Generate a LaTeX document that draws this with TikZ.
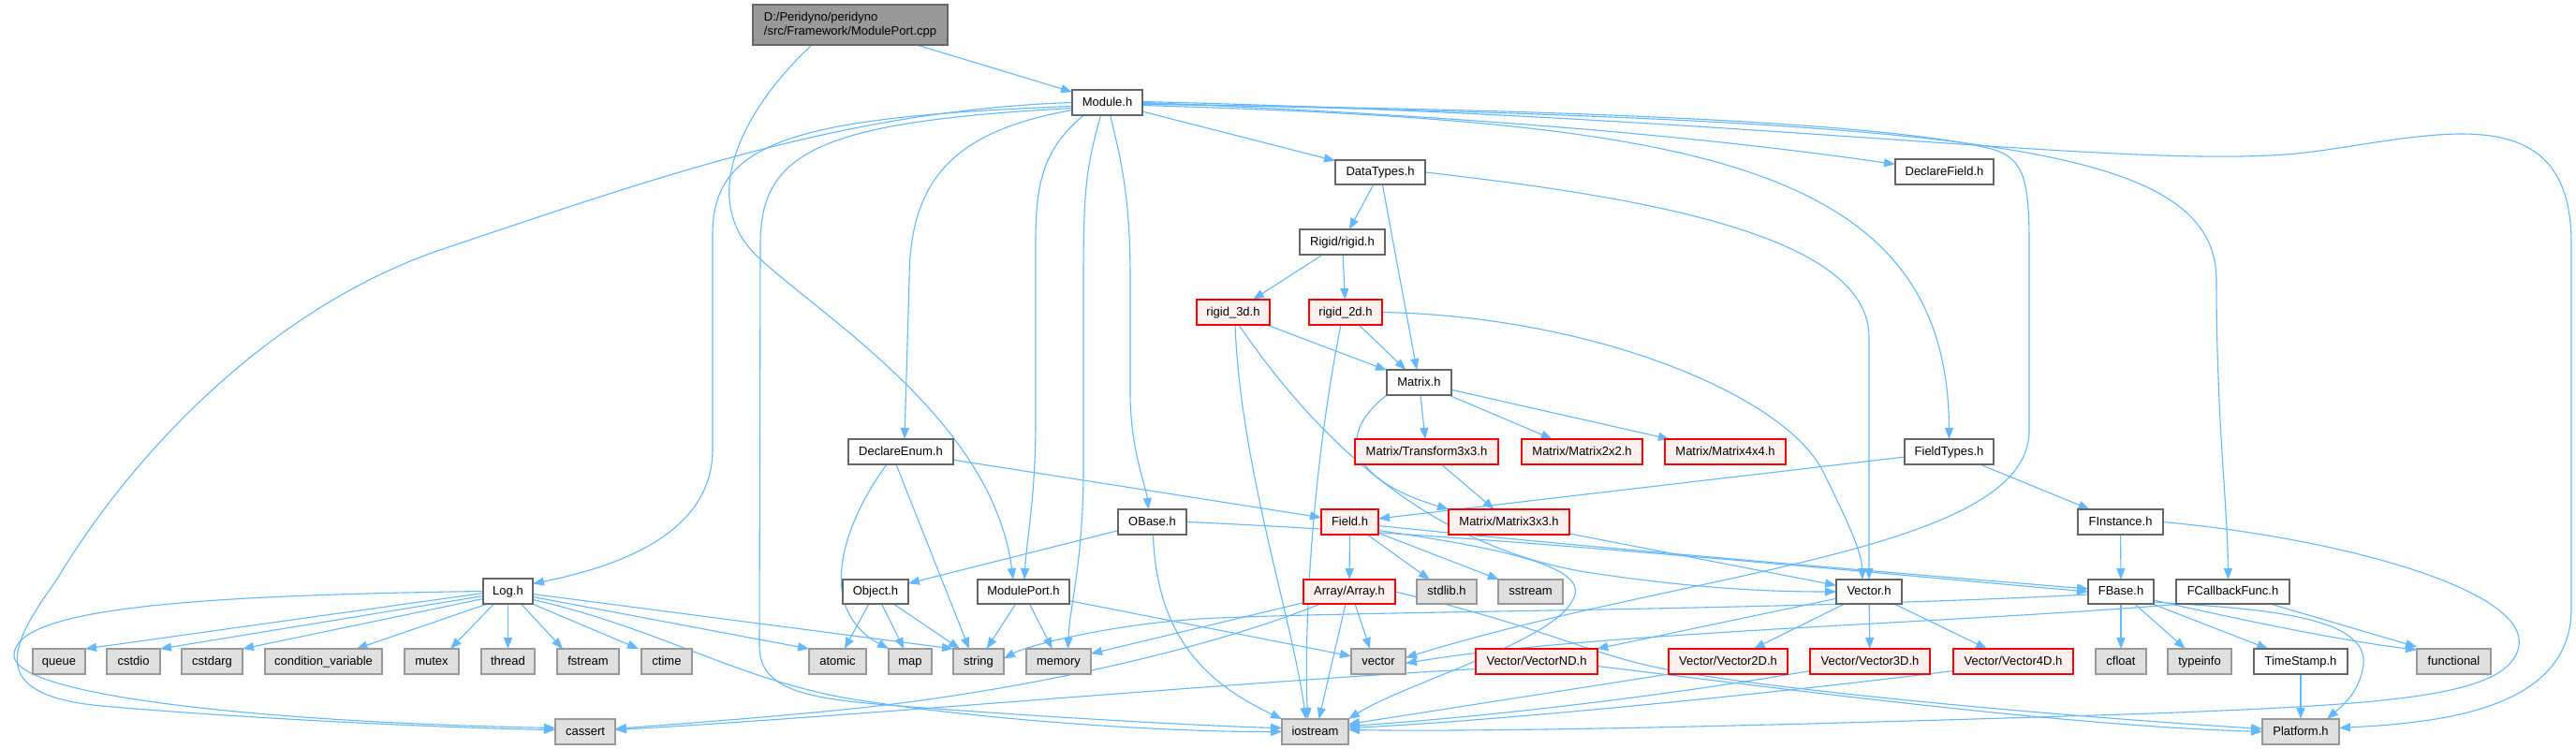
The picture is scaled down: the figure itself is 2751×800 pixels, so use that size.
\documentclass[tikz,border=0pt]{standalone}
\usepackage{fontspec}
\setmainfont{Liberation Sans}
\usetikzlibrary{arrows.meta}
\definecolor{ecol}{HTML}{63B8FF}
\definecolor{bgray}{HTML}{666666}
\definecolor{sysfill}{HTML}{E0E0E0}
\definecolor{sysdraw}{HTML}{999999}
\definecolor{redfill}{HTML}{FFF0F0}
\definecolor{reddraw}{HTML}{FF0000}
\definecolor{rootfill}{HTML}{999999}
\newcommand\fsz{\fontsize{13}{15.5}\selectfont}
\pgfdeclarelayer{bg}
\pgfsetlayers{bg,main}
\tikzset{
  box/.style={draw=bgray, fill=white, line width=1.3pt, inner sep=0pt, outer sep=0pt, font=\fsz, text height=9.5pt, text depth=2.5pt},
  redbox/.style={box, draw=reddraw, fill=redfill},
  sysbox/.style={box, draw=sysdraw, fill=sysfill},
  rootbox/.style={box, fill=rootfill, align=left, text height=, text depth=},
  edge/.style={draw=ecol, line width=1.1pt, -{Triangle[length=12pt,width=9pt]}}
}
\newcommand\bx[7]{%
  \pgfmathsetmacro\bxcx{(#2+#4)/2}%
  \pgfmathsetmacro\bxcy{(#3+#5)/2}%
  \pgfmathsetmacro\bxw{#4-#2}%
  \pgfmathsetmacro\bxh{#5-#3}%
  \node[#6, minimum width=\bxw pt, minimum height=\bxh pt] (#1) at (\bxcx,\bxcy) {#7};}
\begin{document}
\begin{tikzpicture}[x=1pt,y=-1pt]
\useasboundingbox (0,0) rectangle (2751,800);
% nodes
\bx{root}{804}{5}{1012}{48}{rootbox}{D:/Peridyno/peridyno\\/src/Framework/ModulePort.cpp}
\bx{module}{1145}{96}{1220}{123}{box}{Module.h}
\bx{datatypes}{1426}{171}{1522}{197}{box}{DataTypes.h}
\bx{declfield}{2024}{170}{2129}{197}{box}{DeclareField.h}
\bx{rigid}{1388}{245}{1479}{272}{box}{Rigid/rigid.h}
\bx{r3d}{1278}{320}{1356}{347}{redbox}{rigid\_3d.h}
\bx{r2d}{1398}{320}{1476}{347}{redbox}{rigid\_2d.h}
\bx{matrix}{1481}{395}{1550}{422}{box}{Matrix.h}
\bx{declenum}{906}{469}{1018}{496}{box}{DeclareEnum.h}
\bx{tr33}{1447}{469}{1600}{496}{redbox}{Matrix/Transform3x3.h}
\bx{m22}{1625}{469}{1754}{496}{redbox}{Matrix/Matrix2x2.h}
\bx{m44}{1778}{469}{1907}{496}{redbox}{Matrix/Matrix4x4.h}
\bx{fieldtypes}{2034}{469}{2129}{496}{box}{FieldTypes.h}
\bx{obase}{1194}{544}{1267}{571}{box}{OBase.h}
\bx{field}{1411}{544}{1472}{571}{redbox}{Field.h}
\bx{m33}{1547}{544}{1676}{571}{redbox}{Matrix/Matrix3x3.h}
\bx{finst}{2219}{544}{2310}{571}{box}{FInstance.h}
\bx{logh}{516}{618}{569}{645}{box}{Log.h}
\bx{object}{900}{619}{970}{645}{box}{Object.h}
\bx{mport}{1044}{619}{1142}{645}{box}{ModulePort.h}
\bx{array}{1392}{619}{1490}{645}{redbox}{Array/Array.h}
\bx{stdlib}{1513}{619}{1577}{645}{sysbox}{stdlib.h}
\bx{sstream}{1600}{619}{1669}{645}{sysbox}{sstream}
\bx{vech}{1961}{619}{2031}{645}{box}{Vector.h}
\bx{fbase}{2230}{619}{2300}{645}{box}{FBase.h}
\bx{fcb}{2324}{619}{2445}{645}{box}{FCallbackFunc.h}
\bx{queue}{35}{693}{91}{720}{sysbox}{queue}
\bx{cstdio}{114}{693}{171}{720}{sysbox}{cstdio}
\bx{cstdarg}{194}{693}{259}{720}{sysbox}{cstdarg}
\bx{condvar}{283}{693}{408}{720}{sysbox}{condition\_variable}
\bx{mutex}{432}{693}{490}{720}{sysbox}{mutex}
\bx{thread}{514}{693}{571}{720}{sysbox}{thread}
\bx{fstream}{595}{693}{661}{720}{sysbox}{fstream}
\bx{ctime}{685}{693}{739}{720}{sysbox}{ctime}
\bx{atomic}{864}{693}{925}{720}{sysbox}{atomic}
\bx{map}{949}{693}{995}{720}{sysbox}{map}
\bx{string}{1018}{693}{1072}{720}{sysbox}{string}
\bx{memory}{1096}{693}{1165}{720}{sysbox}{memory}
\bx{vector}{1443}{693}{1501}{720}{sysbox}{vector}
\bx{vnd}{1576}{693}{1706}{720}{redbox}{Vector/VectorND.h}
\bx{v2d}{1782}{693}{1909}{720}{redbox}{Vector/Vector2D.h}
\bx{v3d}{1933}{693}{2061}{720}{redbox}{Vector/Vector3D.h}
\bx{v4d}{2086}{693}{2214}{720}{redbox}{Vector/Vector4D.h}
\bx{cfloat}{2238}{693}{2292}{720}{sysbox}{cfloat}
\bx{typeinfo}{2315}{693}{2383}{720}{sysbox}{typeinfo}
\bx{tstamp}{2407}{693}{2507}{720}{box}{TimeStamp.h}
\bx{functional}{2581}{693}{2660}{720}{sysbox}{functional}
\bx{cassert}{593}{768}{657}{795}{sysbox}{cassert}
\bx{iostream}{1369}{768}{1440}{795}{sysbox}{iostream}
\bx{platform}{2416}{768}{2498}{795}{sysbox}{Platform.h}
\begin{pgfonlayer}{bg}
\fill[white] (0,0) rectangle (2751,800);
% root
\draw[edge] (root) -- (module);
\draw[edge] ([xshift=-41pt]root.south) .. controls (800,110) and (740,210) .. (810,275) .. controls (880,340) and (1060,450) .. ([xshift=-11pt]mport.north);
% Module.h
\draw[edge] (module) -- (datatypes);
\draw[edge] (module.east) .. controls (1600,125) and (1850,150) .. ([yshift=8pt]declfield.west);
\draw[edge] ([yshift=-3pt]module.east) .. controls (1800,130) and (2080,170) .. (fieldtypes.north);
\draw[edge] ([yshift=-2pt]module.east) .. controls (1800,118) and (2050,138) .. (2130,160) .. controls (2160,170) and (2167,190) .. (2167,260) -- (2167,460) .. controls (2167,590) and (1800,610) .. ([yshift=4pt]vector.east);
\draw[edge] ([yshift=-1pt]module.east) .. controls (2100,130) and (2367,150) .. (2367,300) .. controls (2367,450) and (2379,540) .. ([xshift=-5pt]fcb.north);
\draw[edge] ([yshift=1pt]module.east) .. controls (1900,125) and (2300,185) .. (2470,162) .. controls (2600,145) and (2746,100) .. (2746,260) -- (2746,650) .. controls (2746,760) and (2600,772) .. ([yshift=4pt]platform.east);
\draw[edge] (module.west) .. controls (900,118) and (700,190) .. (470,267) .. controls (300,325) and (150,470) .. (60,620) .. controls (10,690) and (-20,745) .. (120,755) .. controls (300,770) and (500,778) .. ([yshift=2pt]cassert.west);
\draw[edge] ([yshift=-4pt]module.west) .. controls (850,125) and (761,150) .. (761,250) -- (761,480) .. controls (761,570) and (660,605) .. ([yshift=8pt]logh.east);
\draw[edge] ([yshift=-6pt]module.west) .. controls (880,130) and (812,160) .. (812,260) -- (811,690) .. controls (811,745) and (880,748) .. (1000,757) .. controls (1150,768) and (1300,776) .. ([yshift=4pt]iostream.west);
\draw[edge] ([yshift=-8pt]module.west) .. controls (1020,140) and (971,190) .. (971,300) -- ([xshift=4pt]declenum.north);
\draw[edge] ([xshift=-25pt]module.south) .. controls (1112,160) and (1106,200) .. (1106,260) -- (1106,450) .. controls (1106,530) and (1096,580) .. ([xshift=1pt]mport.north);
\draw[edge] ([xshift=-7pt]module.south) .. controls (1160,180) and (1157,200) .. (1157,300) -- (1157,500) .. controls (1157,600) and (1142,650) .. ([xshift=10pt]memory.north);
\draw[edge] ([xshift=3pt]module.south) .. controls (1200,180) and (1207,220) .. (1207,300) -- (1207,420) .. controls (1207,480) and (1224,520) .. ([xshift=-4pt]obase.north);
% DataTypes.h
\draw[edge] (datatypes) -- (rigid);
\draw[edge] (datatypes) -- (matrix);
\draw[edge] (datatypes.east) .. controls (1750,210) and (1996,250) .. (1996,360) -- (vech.north);
% rigid
\draw[edge] (rigid) -- (r3d);
\draw[edge] (rigid) -- (r2d);
\draw[edge] (r3d) -- (matrix);
\draw[edge] (r2d) -- (matrix);
\draw[edge] ([xshift=2pt]r3d.south) .. controls (1325,500) and (1380,660) .. ([xshift=-10pt]iostream.north);
\draw[edge] ([xshift=-5pt]r2d.south) .. controls (1405,480) and (1392,650) .. ([xshift=-8pt]iostream.north);
\draw[edge] ([xshift=6pt]r3d.south) .. controls (1400,460) and (1520,585) .. (1700,612) .. controls (1820,630) and (1900,632) .. (vech.west);
\draw[edge] (r2d.east) .. controls (1700,338) and (1900,420) .. (1945,500) .. controls (1975,560) and (1988,590) .. ([xshift=-7pt]vech.north);
% Matrix
\draw[edge] (matrix) -- (tr33);
\draw[edge] (matrix) -- (m22);
\draw[edge] (matrix) -- (m44);
\draw[edge] (matrix.south west) .. controls (1420,470) and (1450,515) .. (m33.north west);
\draw[edge] (tr33) -- (m33);
\draw[edge] (m33) -- (vech);
% DeclareEnum
\draw[edge] (declenum) -- (field);
\draw[edge] ([xshift=-5pt]declenum.south) -- ([xshift=-10pt]string.north);
\draw[edge] ([xshift=-15pt]declenum.south) .. controls (900,560) and (870,650) .. (map.north west);
% FieldTypes, FInstance
\draw[edge] (fieldtypes) -- (field);
\draw[edge] (fieldtypes) -- (finst);
\draw[edge] (finst) -- (fbase);
\draw[edge] (finst.east) .. controls (2500,575) and (2700,630) .. (2690,690) .. controls (2680,745) and (2550,752) .. (2300,762) .. controls (1900,775) and (1600,782) .. ([yshift=2pt]iostream.east);
% OBase
\draw[edge] (obase) -- (object);
\draw[edge] ([xshift=1pt]obase.south) .. controls (1235,690) and (1300,735) .. (iostream.north west);
\draw[edge] (obase.east) .. controls (1600,572) and (2000,612) .. (fbase.west);
% Field
\draw[edge] (field) -- (array);
\draw[edge] (field) -- (stdlib);
\draw[edge] (field) -- (sstream);
\draw[edge] ([yshift=-4pt]field.east) .. controls (1700,585) and (2000,610) .. ([yshift=3pt]fbase.west);
\draw[edge] ([yshift=-9pt]field.east) .. controls (1600,585) and (1700,605) .. (1680,640) .. controls (1660,685) and (1500,730) .. (iostream.north east);
% Object, ModulePort
\draw[edge] (object) -- (atomic);
\draw[edge] (object) -- (map);
\draw[edge] (object) -- (string);
\draw[edge] (mport) -- (string);
\draw[edge] (mport) -- (memory);
\draw[edge] (mport) -- (vector);
% Array
\draw[edge] (array) -- (memory);
\draw[edge] ([xshift=-31pt]array.south) .. controls (1300,690) and (1100,738) .. (900,758) .. controls (800,768) and (700,775) .. ([yshift=3pt]cassert.east);
\draw[edge] ([xshift=-4pt]array.south) -- ([xshift=4pt]iostream.north);
\draw[edge] ([xshift=6pt]array.south) -- ([xshift=-9pt]vector.north);
\draw[edge] (array.east) .. controls (1650,670) and (1700,700) .. (1780,715) .. controls (1900,738) and (2200,765) .. ([yshift=3pt]platform.west);
% Vector.h
\draw[edge] (vech) -- (vnd);
\draw[edge] (vech) -- (v2d);
\draw[edge] (vech) -- (v3d);
\draw[edge] (vech) -- (v4d);
\draw[edge] ([yshift=-8pt]vnd.west) .. controls (1300,730) and (900,766) .. ([yshift=2pt]cassert.east);
\draw[edge] ([yshift=-5pt]vnd.east) .. controls (1900,735) and (2200,775) .. (platform.west);
\draw[edge] (v2d.south west) -- ([yshift=8pt]iostream.east);
\draw[edge] ([yshift=-10pt]v3d.west) .. controls (1800,740) and (1600,765) .. ([yshift=6pt]iostream.east);
\draw[edge] ([yshift=-10pt]v4d.west) .. controls (1900,740) and (1600,770) .. ([yshift=4pt]iostream.east);
% FBase
\draw[edge] (fbase) -- (cfloat);
\draw[edge] (fbase) -- (typeinfo);
\draw[edge] (fbase) -- (tstamp);
\draw[edge] ([yshift=-9pt]fbase.east) .. controls (2450,675) and (2530,688) .. ([yshift=-1pt]functional.north west);
\draw[edge] ([yshift=-11pt]fbase.east) .. controls (2400,650) and (2530,655) .. (2524,710) .. controls (2520,740) and (2500,755) .. ([xshift=28pt]platform.north);
\draw[edge] ([yshift=-3pt]fbase.west) .. controls (1900,652) and (1500,652) .. (1300,660) .. controls (1200,664) and (1100,688) .. ([yshift=3pt]string.east);
% FCallbackFunc, TimeStamp
\draw[edge] ([xshift=40pt]fcb.south) -- ([yshift=2pt]functional.north west);
\draw[edge] ([xshift=-55pt]fcb.south) .. controls (2100,665) and (1700,675) .. ([yshift=-2pt]vector.east);
\draw[edge] (tstamp) -- (platform);
% Log.h
\draw[edge] ([yshift=-2pt]logh.west) -- (queue.north east);
\draw[edge] ([yshift=-5pt]logh.west) -- (cstdio.north east);
\draw[edge] ([yshift=-8pt]logh.west) -- (cstdarg.north east);
\draw[edge] ([xshift=-22pt]logh.south) -- ([xshift=35pt]condvar.north);
\draw[edge] ([xshift=-15pt]logh.south) -- ([xshift=20pt]mutex.north);
\draw[edge] (logh.south) -- (thread.north);
\draw[edge] ([xshift=14pt]logh.south) -- ([xshift=-27pt]fstream.north);
\draw[edge] ([xshift=26pt]logh.south) -- ([xshift=-30pt]ctime.north);
\draw[edge] ([yshift=-6pt]logh.east) -- (atomic.north west);
\draw[edge] ([yshift=-3pt]logh.east) -- (string.north west);
\draw[edge] (logh.west) .. controls (200,636) and (15,650) .. (15,700) .. controls (15,745) and (300,772) .. ([yshift=4pt]cassert.west);
\draw[edge] ([yshift=-9pt]logh.east) .. controls (700,670) and (780,722) .. (900,745) .. controls (1050,770) and (1250,782) .. (iostream.west);
\end{pgfonlayer}
\end{tikzpicture}
\end{document}
